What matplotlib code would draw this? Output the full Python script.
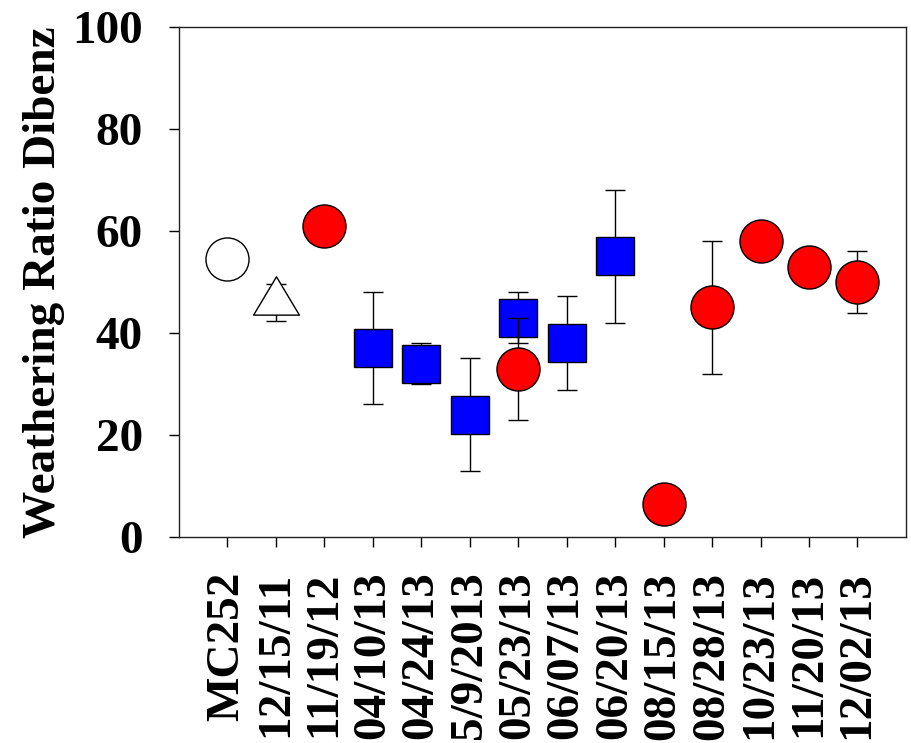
import matplotlib
matplotlib.use("Agg")
import matplotlib.pyplot as plt
from matplotlib.path import Path

labels = ['MC252', '12/15/11', '11/19/12', '04/10/13', '04/24/13', '5/9/2013',
          '05/23/13', '06/07/13', '06/20/13', '08/15/13', '08/28/13', '10/23/13',
          '11/20/13', '12/02/13']

# MC252 source oil (open circle)
mc_x = [1]
mc_y = [54.5]

# 12/15/11 (open triangle)
tri_x = [2]
tri_y = [46]
tri_err = [3.6]

# blue squares
sq_x = [4, 5, 6, 7, 8, 9]
sq_y = [37, 34, 24, 43, 38, 55]
sq_err = [11, 4, 11, 5, 9.2, 13]

# red circles
rc_x = [3, 7, 10, 11, 12, 13, 14]
rc_y = [61, 33, 6.5, 45, 58, 53, 50]
rc_err = [0, 10, 0, 13, 0, 0, 6]

plt.rcParams['font.family'] = ['Liberation Serif', 'DejaVu Serif']
plt.rcParams['font.weight'] = 'bold'

fig = plt.figure(figsize=(9.12, 7.43), dpi=100)
ax = fig.add_axes([0.1963, 0.2773, 0.797, 0.6864])

# triangle centred on its centroid like the original
tri_marker = Path([(0, 25), (-22.3, -12.3), (22.3, -12.3), (0, 25)], closed=True)

err_kw = dict(ecolor='black', elinewidth=1, capsize=7, capthick=1, linestyle='none',
              markeredgecolor='black', markeredgewidth=1)

ax.plot(mc_x, mc_y, linestyle='none', marker='o', markersize=31,
        markerfacecolor='white', markeredgecolor='black', markeredgewidth=1, zorder=2)
ax.errorbar(tri_x, tri_y, yerr=tri_err, marker=tri_marker, markersize=37,
            markerfacecolor='white', zorder=2, **err_kw)
ax.errorbar(sq_x, sq_y, yerr=sq_err, marker='s', markersize=27.4,
            markerfacecolor='#0000FF', zorder=2, **err_kw)
ax.errorbar(rc_x, rc_y, yerr=rc_err, marker='o', markersize=31,
            markerfacecolor='#FF0000', zorder=3, **err_kw)

ax.set_xlim(0, 15)
ax.set_ylim(0, 100)
ax.set_yticks([0, 20, 40, 60, 80, 100])
ax.set_xticks(range(1, 15))
ax.set_xticklabels(labels, rotation=90)

ax.tick_params(axis='both', direction='out', length=7, width=1, labelsize=34)
ax.tick_params(axis='x', pad=18)
ax.tick_params(axis='y', pad=19)
ax.tick_params(top=False, right=False)
for s in ax.spines.values():
    s.set_linewidth(1)
    s.set_color('#222222')

ax.set_ylabel('Weathering Ratio Dibenz', fontsize=34, fontweight='bold', labelpad=5)

fig.savefig('out.png', dpi=100)
